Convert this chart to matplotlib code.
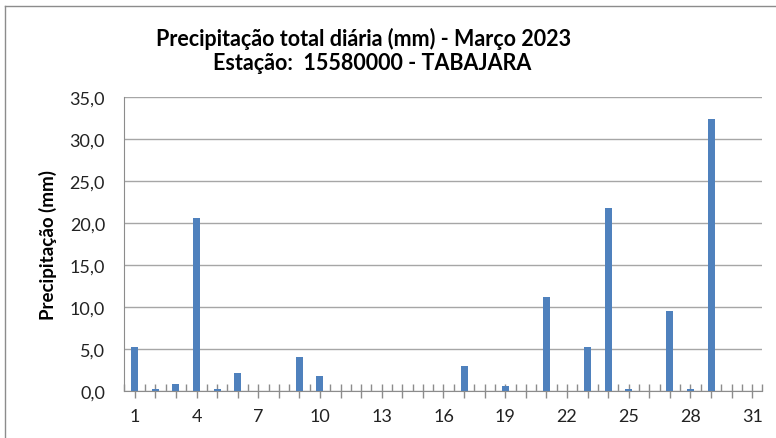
import matplotlib.pyplot as plt
from matplotlib.ticker import FixedLocator, FuncFormatter

plt.rcParams['font.family'] = ['Lato', 'DejaVu Sans']

days = list(range(1, 32))
precip = [5.2, 0.2, 0.8, 20.6, 0.2, 2.2, 0.0, 0.0, 4.0, 1.8,
          0.0, 0.0, 0.0, 0.0, 0.0, 0.0, 3.0, 0.0, 0.6, 0.0,
          11.2, 0.0, 5.2, 21.8, 0.2, 0.0, 9.5, 0.2, 32.4, 0.0, 0.0]
label_days = [1, 4, 7, 10, 13, 16, 19, 22, 25, 28, 31]
y_ticks = [0, 5, 10, 15, 20, 25, 30, 35]

BAR_COLOR = "#4F81BD"
GRID_COLOR = "#A6A6A6"

fig = plt.figure(figsize=(7.76, 4.39), dpi=100)
ax = fig.add_axes([0.1604, 0.1071, 0.8222, 0.6697])

ax.bar(days, precip, width=0.34, color=BAR_COLOR, zorder=3)

ax.set_xlim(0.5, 31.5)
ax.set_ylim(0, 35)

ax.yaxis.set_major_locator(FixedLocator(y_ticks))
ax.yaxis.set_major_formatter(FuncFormatter(lambda v, p: f"{v:.1f}".replace(".", ",")))
ax.grid(axis="y", color=GRID_COLOR, linewidth=1.0, zorder=0)
ax.tick_params(axis="y", length=0, pad=14, labelsize=13, labelcolor="#222222")

# major ticks on each day, labels every 3 days, minor ticks between days
ax.xaxis.set_major_locator(FixedLocator(days))
ax.xaxis.set_major_formatter(FuncFormatter(lambda v, p: str(int(v)) if int(v) in label_days else ""))
ax.xaxis.set_minor_locator(FixedLocator([d + 0.5 for d in range(0, 32)]))
ax.tick_params(axis="x", which="major", direction="inout", length=10, width=1,
               color="#8C8C8C", pad=7, labelsize=13, labelcolor="#222222")
ax.tick_params(axis="x", which="minor", direction="in", length=5, width=1, color="#8C8C8C")

for side in ["top", "right"]:
    ax.spines[side].set_visible(False)
ax.spines["left"].set_color("#8C8C8C")
ax.spines["bottom"].set_color("#8C8C8C")

ax.set_ylabel("Precipitação (mm)", fontsize=13.5, fontweight="bold", labelpad=9)

fig.text(0.469, 0.911, "Precipitação total diária (mm) - Março 2023",
         ha="center", va="center", fontsize=15.5, fontweight="bold")
fig.text(0.479, 0.856, "Estação:  15580000 - TABAJARA",
         ha="center", va="center", fontsize=15.5, fontweight="bold")

# outer chart border (top and left visible)
fig.add_artist(plt.Line2D([5 / 776, 1], [1 - 7 / 439, 1 - 7 / 439],
                          transform=fig.transFigure, color="#8C8C8C", linewidth=1))
fig.add_artist(plt.Line2D([5 / 776, 5 / 776], [0, 1 - 7 / 439],
                          transform=fig.transFigure, color="#8C8C8C", linewidth=1))

fig.savefig("out.png", dpi=100)
